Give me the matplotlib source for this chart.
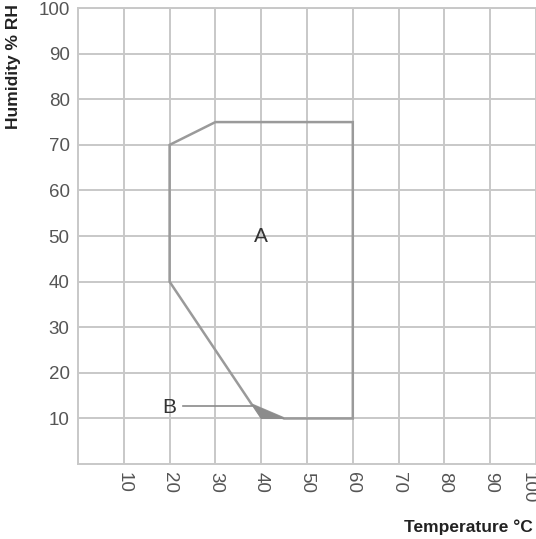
import matplotlib.pyplot as plt
import matplotlib.transforms as mtransforms
from matplotlib.patches import Polygon

# operating range (temperature degC, humidity %RH)
area_a_temp = [20, 20, 30, 60, 60, 45, 38]
area_a_hum = [40, 70, 75, 75, 10, 10, 13]
area_b_temp = [38, 40, 45]
area_b_hum = [13, 10, 10]
ticks = [10, 20, 30, 40, 50, 60, 70, 80, 90, 100]

plt.rcParams['font.family'] = ['Liberation Sans', 'DejaVu Sans']

fig = plt.figure(figsize=(5.36, 5.39), dpi=100)
ax = fig.add_axes([0.1455, 0.139, 0.8545, 0.846])
ax.set_xlim(0, 100)
ax.set_ylim(0, 100)

grid_col = '#c8c8c8'
ax.set_xticks(ticks)
ax.set_yticks(ticks)
ax.grid(True, color=grid_col, linewidth=1.4)
for s in ax.spines.values():
    s.set_color(grid_col)
    s.set_linewidth(1.4)
ax.spines['right'].set_visible(False)
ax.tick_params(length=0, colors='#555555', labelsize=13.5)
ax.tick_params(axis='x', pad=6)
ax.tick_params(axis='y', pad=6)
for lab in ax.get_xticklabels():
    lab.set_rotation(-90)
    lab.set_va('top')
# keep the last label inside the figure
last = ax.get_xticklabels()[-1]
last.set_transform(last.get_transform() +
                   mtransforms.ScaledTranslation(-8 / 100, 0, fig.dpi_scale_trans))

outline = Polygon(list(zip(area_a_temp, area_a_hum)), closed=True, fill=False,
                  edgecolor='#9a9a9a', linewidth=1.8, zorder=3)
ax.add_patch(outline)
tri = Polygon(list(zip(area_b_temp, area_b_hum)), closed=True,
              facecolor='#8c8c8c', edgecolor='#8c8c8c', linewidth=0.8, zorder=3)
ax.add_patch(tri)

ax.text(40, 50, 'A', fontsize=15, color='#333333', ha='center', va='center')
ax.text(20, 12.5, 'B', fontsize=15, color='#333333', ha='center', va='center')
ax.plot([23, 38], [12.7, 12.7], color='#8a8a8a', linewidth=1.2, zorder=3)

fig.text(0.026, 0.992, 'Humidity % RH', rotation=90, ha='center', va='top',
         fontsize=12.5, fontweight='bold', color='#222222')
fig.text(0.994, 0.022, 'Temperature \u00b0C', ha='right', va='center',
         fontsize=12.5, fontweight='bold', color='#222222')

fig.savefig('out.png', dpi=100)
